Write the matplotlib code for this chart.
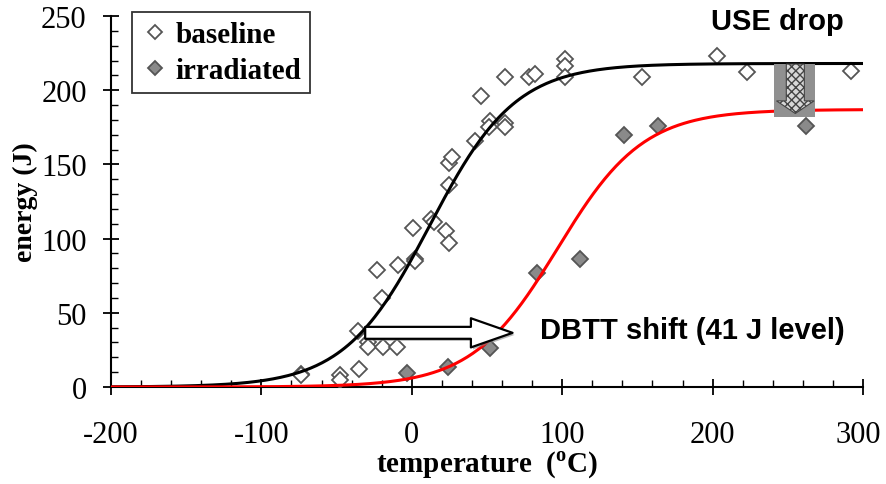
import numpy as np
import matplotlib
matplotlib.use("Agg")
import matplotlib.pyplot as plt
from matplotlib.patches import Rectangle, FancyArrow
from matplotlib.transforms import ScaledTranslation
import matplotlib.patheffects as pe

# baseline Charpy data (temperature C, energy J)
base_T = [-74, -74, -48, -48, -35, -36, -29, -29, -19, -10, -23, -9, 2, 2, -20,
          1, 13, 15, 23, 25, 25, 25, 27, 42, 52, 51, 62, 62, 46, 62, 78, 82,
          102, 102, 102, 153, 203, 223, 292]
base_E = [9, 8, 8, 5, 12, 38, 30, 27, 27, 27, 79, 82, 86, 85, 60,
          107, 113, 111, 105, 97, 136, 151, 155, 166, 179, 175, 178, 175, 196, 209, 209, 211,
          221, 216, 209, 209, 223, 212, 213]

# irradiated data
irr_T = [-3, 24, 52, 83, 112, 141, 164, 262]
irr_E = [9.5, 13.5, 26, 77, 86, 170, 176, 176]

# tanh fit parameters: upper shelf, lower shelf, mid temperature, half width
base_fit = (218, 0, 12, 57)
irr_fit = (187, 0, 97, 57)


def tanh_curve(t, p):
    us, ls, t0, c = p
    return (us + ls) / 2 + (us - ls) / 2 * np.tanh((t - t0) / c)


plt.rcParams['font.family'] = ['Liberation Serif', 'DejaVu Serif']
plt.rcParams['axes.unicode_minus'] = False
plt.rcParams['mathtext.fontset'] = 'custom'
plt.rcParams['mathtext.rm'] = 'Liberation Serif:bold'

fig = plt.figure(figsize=(8.86, 4.85), dpi=100)
ax = fig.add_axes([111 / 886, 1 - 388 / 485, 752 / 886, 371 / 485])

t = np.linspace(-200, 300, 400)
ax.plot(base_T, base_E, linestyle='none', marker='D', ms=8.5, mfc='white',
        mec='#555555', mew=1.3, label='baseline', zorder=3)
ax.plot(irr_T, irr_E, linestyle='none', marker='D', ms=8.5, mfc='#8a8a8a',
        mec='#555555', mew=1.3, label='irradiated', zorder=3)
ax.plot(t, tanh_curve(t, base_fit), color='black', lw=2.2, zorder=4)
ax.plot(t, tanh_curve(t, irr_fit), color='red', lw=2.2, zorder=4)

# DBTT shift arrow at 41 J level
ann = ax.annotate('', xy=(67, 36.5), xytext=(-31, 36.5),
                  arrowprops=dict(arrowstyle='simple,head_length=1.5,head_width=1.05,tail_width=0.43',
                                  fc='white', ec='black', lw=1.6, shrinkA=0, shrinkB=0,
                                  mutation_scale=20),
                  zorder=5)
ann.arrow_patch.set_path_effects([pe.withSimplePatchShadow(offset=(1.5, -1.5),
                                                           shadow_rgbFace='#888888', alpha=0.6)])
ax.text(85, 38.5, 'DBTT shift (41 J level)', family='Liberation Sans', weight='bold',
        fontsize=21, va='center', ha='left')

# USE drop marker
ax.add_patch(Rectangle((241, 182), 27, 35.6, fc='#909090', ec='none', zorder=5))
ax.add_patch(FancyArrow(255, 217.6, 0, -33.3, width=12, head_width=25, head_length=8.5,
                        length_includes_head=True, fc='#d8d8d8', ec='#444444',
                        hatch='xxxx', lw=0.8, zorder=6))
ax.text(243, 246.5, 'USE drop', family='Liberation Sans', weight='bold', fontsize=21,
        ha='center', va='center')

ax.set_xlim(-200, 300)
ax.set_ylim(0, 250)
ax.spines['top'].set_visible(False)
ax.spines['right'].set_visible(False)
ax.spines['left'].set_linewidth(1.5)
ax.spines['bottom'].set_linewidth(1.5)
ax.set_xticks(np.arange(-200, 301, 100))
ax.set_yticks(np.arange(0, 251, 50))
ax.set_xticks(np.arange(-200, 301, 20), minor=True)
ax.set_yticks(np.arange(0, 251, 10), minor=True)
ax.tick_params(which='major', direction='inout', length=11, width=1.3, labelsize=22)
ax.tick_params(which='minor', direction='in', length=5, width=1)
ax.tick_params(axis='x', which='major', pad=18)
ax.tick_params(axis='y', which='major', pad=12)

ax.set_xlabel(r'temperature  ($^{\rm o}$C)', fontsize=21, weight='bold', labelpad=0)
ax.set_ylabel('energy (J)', fontsize=20, weight='bold', labelpad=2)

leg = ax.legend(loc='upper left', bbox_to_anchor=(0.028, 1.01), frameon=True, fancybox=False,
                prop={'weight': 'bold', 'size': 21}, handletextpad=0.2, handlelength=1.0,
                borderpad=0.3, labelspacing=0.3, borderaxespad=0.0, markerscale=0.85)
leg.get_frame().set_edgecolor('black')
leg.get_frame().set_linewidth(1.3)

# nudge the last x tick label so it stays inside the canvas
last = ax.get_xticklabels()[-1]
last.set_transform(last.get_transform() + ScaledTranslation(-0.05, 0, fig.dpi_scale_trans))

fig.savefig('out.png', dpi=100)
